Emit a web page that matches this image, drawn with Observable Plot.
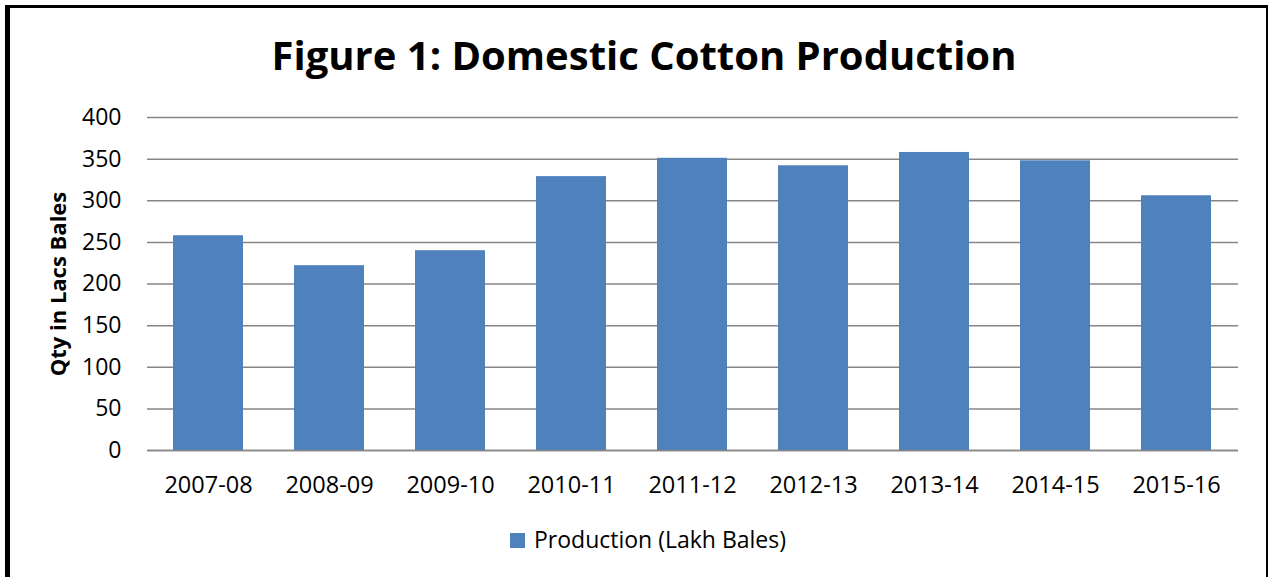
<!DOCTYPE html>
<html>
<head>
<meta charset="utf-8">
<script src="https://cdn.jsdelivr.net/npm/d3@7"></script>
<script src="https://cdn.jsdelivr.net/npm/@observablehq/plot@0.6"></script>
<style>
  html, body { margin: 0; padding: 0; background: #fff; }
  #frame {
    position: absolute; left: 5px; top: 5px; width: 1256px; height: 590px;
    border-left: 5px solid #000; border-top: 3px solid #000; border-right: 2px solid #000;
  }
  #wrap { position: absolute; left: 0; top: 0; width: 1268px; height: 577px; overflow: hidden;
    font-family: "Open Sans", "Noto Sans", sans-serif; }
  #title { position: absolute; left: 10px; top: 31px; width: 1268px; text-align: center;
    font-weight: 700; font-size: 40px; color: #000; line-height: 1.2; }
  #chart { position: absolute; left: 0; top: 95px; }
  #legend { position: absolute; left: 14px; top: 523px; width: 1268px; text-align: center;
    font-size: 23px; color: #000; }
  #legend .sw { display: inline-block; width: 15px; height: 15px; background: #4F81BD;
    margin-right: 9px; vertical-align: 0px; }
</style>
</head>
<body>
<div id="wrap">
  <div id="frame"></div>
  <div id="title">Figure 1: Domestic Cotton Production</div>
  <div id="chart"></div>
  <div id="legend"><span class="sw"></span>Production (Lakh Bales)</div>
</div>
<script>
const years = ["2007-08","2008-09","2009-10","2010-11","2011-12","2012-13","2013-14","2014-15","2015-16"];
const production = [258, 222, 240, 329, 351, 342, 358, 348, 306];
const yTicks = [0, 50, 100, 150, 200, 250, 300, 350, 400];
const seriesName = "Production (Lakh Bales)";
const yTitle = "Qty in Lacs Bales";

const data = years.map((y, i) => ({year: y, value: production[i]}));

const chart = Plot.plot({
  width: 1268,
  height: 415,
  marginLeft: 147,
  marginRight: 30,
  marginTop: 22,
  marginBottom: 60,
  style: {fontFamily: "'Open Sans', 'Noto Sans', sans-serif", fontSize: "23px", color: "#000", background: "transparent"},
  x: {domain: years, paddingInner: 0.42, paddingOuter: 0.21, label: null},
  y: {domain: [0, 400], label: null},
  marks: [
    Plot.gridY(yTicks, {stroke: "#868686", strokeOpacity: 1, strokeWidth: 1.5}),
    Plot.barY(data, {x: "year", y: "value", fill: "#4F81BD"}),
    Plot.ruleY([0], {stroke: "#868686", strokeWidth: 1.5}),
    Plot.axisY(yTicks, {tickSize: 0, tickPadding: 26, fontSize: 23, label: yTitle, labelAnchor: "center", labelArrow: "none", labelOffset: 97}),
    Plot.axisX({tickSize: 0, tickPadding: 26, fontSize: 23.5, label: null})
  ]
});
d3.select(chart).selectAll("g[aria-label='y-axis label'] text").style("font-weight", "700").style("font-size", "22px");
document.getElementById("chart").appendChild(chart);
</script>
</body>
</html>
